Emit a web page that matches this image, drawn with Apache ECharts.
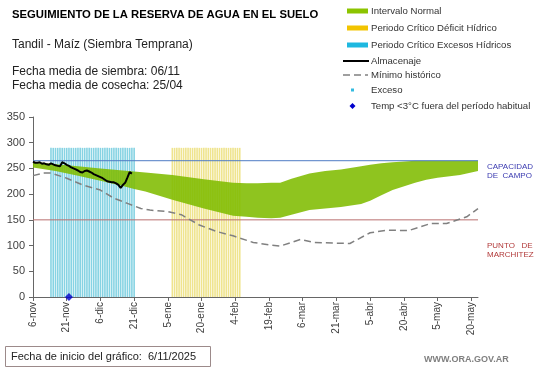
<!DOCTYPE html>
<html>
<head>
<meta charset="utf-8">
<script src="https://cdn.jsdelivr.net/npm/echarts@6/dist/echarts.min.js"></script>
<style>html,body{margin:0;padding:0;background:#fff;}#c{width:541px;height:368px;}</style>
</head>
<body>
<div id="c"></div>
<script>
// ---- data ----
const tickDays = [0,15,30,45,60,75,90,105,120,135,150,165,180,195];
const tickLabels = ['6-nov','21-nov','6-dic','21-dic','5-ene','20-ene','4-feb','19-feb','6-mar','21-mar','5-abr','20-abr','5-may','20-may'];
const lastDay = 198;

const bandDays = [0,10,20,30,40,45,50,62,76,89,95,100,106,110,115,123,130,137,146,150,155,160,170,175,180,190,198];
const bandHigh = [263,258,254,250,246,244,242,237,229,222,221,221,222,222,230,240,245,248,254,257,260,262,265,265,265,265,265];
const bandLow  = [252,245,236,226,216,210,205,189,172,158,156,154,153,154,160,169,172,175,181,187,198,208,222,228,232,237,245];

const almacenaje = [263,261,261,262,259,260,258,257,260,258,256,255,254,262,260,257,255,252,250,248,246,243,242,245,246,244,242,239,237,235,233,231,228,225,224,223,223,221,218,212,218,222,232,243,240];

const minimoDays = [0,5,8,15,22,30,36,42,48,52,60,66,74,82,89,98,106,110,119,125,141,150,158,167,177,184,193,198];
const minimoValues = [236,241,241,231,218,208,192,182,172,169,166,160,140,127,119,106,101,99,112,106,104,125,130,129,143,143,156,172];

const excesoDays = [8,9,10,11,12,13,14,15,16,17,18,19,20,21,22,23,24,25,26,27,28,29,30,31,32,33,34,35,36,37,38,39,40,41,42,43,44,45];
const deficitDays = [62,63,64,65,66,67,68,69,70,71,72,73,74,75,76,77,78,79,80,81,82,83,84,85,86,87,88,89,90,91,92];
const periodHeight = 290;

const capacidadCampo = 265;
const puntoMarchitez = 150;

const tempDays = [16];
const tempValues = [0];

// ---- build ----
const FONT = 'Liberation Sans, Arial, sans-serif';
const bandData = bandDays.map((d,i)=>[d, bandLow[i], bandHigh[i]]);
const almData = almacenaje.map((v,i)=>[i, v]);
const minData = minimoDays.map((d,i)=>[d, minimoValues[i]]);
const excData = excesoDays.map(d=>[d, periodHeight]);
const defData = deficitDays.map(d=>[d, periodHeight]);
const tempData = tempDays.map((d,i)=>[d, tempValues[i]]);

const chart = echarts.init(document.getElementById('c'), null, {renderer:'canvas'});

const legendX = 347, legendTextX = 371;
const legendRows = [
  {y:11, text:'Intervalo Normal', type:'bar', color:'#8CC400'},
  {y:28, text:'Periodo Crítico Déficit Hídrico', type:'bar', color:'#F2C400'},
  {y:45, text:'Periodo Crítico Excesos Hídricos', type:'bar', color:'#1EB8E0'},
  {y:61, text:'Almacenaje', type:'line', color:'#000'},
  {y:75, text:'Mínimo histórico', type:'dash', color:'#808080'},
  {y:90, text:'Exceso', type:'dot', color:'#33BBE0'},
  {y:106, text:'Temp <3°C fuera del período habitual', type:'diamond', color:'#0000CC'}
];
const graphics = [];
legendRows.forEach(r=>{
  if (r.type==='bar') graphics.push({type:'rect', shape:{x:legendX, y:r.y-2.5, width:21, height:5}, style:{fill:r.color}});
  if (r.type==='line') graphics.push({type:'line', shape:{x1:legendX-4, y1:r.y, x2:legendX+22, y2:r.y}, style:{stroke:r.color, lineWidth:2}});
  if (r.type==='dash') graphics.push({type:'line', shape:{x1:legendX-4, y1:r.y, x2:legendX+21, y2:r.y}, style:{stroke:r.color, lineWidth:1.5, lineDash:[7,4]}});
  if (r.type==='dot') graphics.push({type:'rect', shape:{x:legendX+4, y:r.y-1.5, width:3, height:3}, style:{fill:r.color}});
  if (r.type==='diamond') graphics.push({type:'polygon', shape:{points:[[legendX+5.5,r.y-3],[legendX+8.5,r.y],[legendX+5.5,r.y+3],[legendX+2.5,r.y]]}, style:{fill:r.color}});
  graphics.push({type:'text', x:legendTextX, y:r.y, style:{text:r.text, fill:'#333', font:'9.6px '+FONT, textVerticalAlign:'middle'}});
});
graphics.push(
  {type:'text', x:12, y:15, style:{text:'SEGUIMIENTO DE LA RESERVA DE AGUA EN EL SUELO', fill:'#000', font:'bold 11.3px '+FONT, textVerticalAlign:'middle'}},
  {type:'text', x:12, y:45, style:{text:'Tandil - Maíz (Siembra Temprana)', fill:'#222', font:'12px '+FONT, textVerticalAlign:'middle'}},
  {type:'text', x:12, y:72, style:{text:'Fecha media de siembra: 06/11', fill:'#222', font:'12px '+FONT, textVerticalAlign:'middle'}},
  {type:'text', x:12, y:86, style:{text:'Fecha media de cosecha: 25/04', fill:'#222', font:'12px '+FONT, textVerticalAlign:'middle'}},
  {type:'text', x:487, y:171, style:{text:'CAPACIDAD\nDE  CAMPO', fill:'#3A3AB0', font:'8px '+FONT, lineHeight:9, textVerticalAlign:'middle'}},
  {type:'text', x:487, y:250, style:{text:'PUNTO   DE\nMARCHITEZ', fill:'#B23A3A', font:'8px '+FONT, lineHeight:9, textVerticalAlign:'middle'}},
  {type:'rect', shape:{x:5.5, y:346.5, width:205, height:20}, style:{fill:'none', stroke:'#9C8A8A', lineWidth:1}},
  {type:'text', x:11, y:356.5, style:{text:'Fecha de inicio del gráfico:  6/11/2025', fill:'#222', font:'11px '+FONT, textVerticalAlign:'middle'}},
  {type:'text', x:424, y:360, style:{text:'WWW.ORA.GOV.AR', fill:'#7F7F7F', font:'bold 9px '+FONT, textVerticalAlign:'middle'}}
);

function renderBand(params, api) {
  if (params.dataIndex !== 0) return null;
  const pts = [];
  for (let i = 0; i < bandDays.length; i++) pts.push(api.coord([bandDays[i], bandHigh[i]]));
  for (let i = bandDays.length - 1; i >= 0; i--) pts.push(api.coord([bandDays[i], bandLow[i]]));
  return {type:'polygon', shape:{points:pts}, style:{fill:'#80BC00', opacity:0.88}};
}

chart.setOption({
  animation:false,
  backgroundColor:'#fff',
  textStyle:{fontFamily:FONT},
  grid:{left:33, right:63, top:117, bottom:71, containLabel:false, outerBoundsMode:'none'},
  xAxis:{
    type:'value', min:0, max:lastDay,
    axisLine:{show:true, lineStyle:{color:'#666', width:1}},
    axisTick:{show:true, length:4, lineStyle:{color:'#666'}, customValues:tickDays},
    axisLabel:{customValues:tickDays, rotate:90, fontSize:10, color:'#404040', margin:5,
      formatter:v=>{const i=tickDays.indexOf(v); return i>=0?tickLabels[i]:'';}},
    splitLine:{show:false}
  },
  yAxis:{
    type:'value', min:0, max:350, interval:50,
    name:'Milímetros', nameLocation:'middle', nameGap:26, nameTextStyle:{fontSize:7, color:'#404040'},
    axisLine:{show:true, lineStyle:{color:'#666', width:1}},
    axisTick:{show:true, length:4, lineStyle:{color:'#666'}},
    axisLabel:{fontSize:11, color:'#404040', margin:8},
    splitLine:{show:false}
  },
  graphic:graphics,
  series:[
    {type:'bar', name:'exceso periodo', data:excData, barWidth:1.6, itemStyle:{color:'#86D3E3'}, z:1, silent:true},
    {type:'bar', name:'deficit periodo', data:defData, barWidth:1.6, barGap:'-100%', itemStyle:{color:'#EFE48E'}, z:1, silent:true},
    {type:'custom', name:'Intervalo Normal', data:bandData, encode:{x:0, y:[1,2]}, renderItem:renderBand, z:2, silent:true},
    {type:'line', name:'cap', data:[[0,capacidadCampo],[lastDay,capacidadCampo]], symbol:'none', lineStyle:{color:'#4F7BC4', width:1}, z:3},
    {type:'line', name:'pm', data:[[0,puntoMarchitez],[lastDay,puntoMarchitez]], symbol:'none', lineStyle:{color:'#B97070', width:1}, z:3},
    {type:'line', name:'Mínimo histórico', data:minData, symbol:'none', lineStyle:{color:'#808080', width:1.5, type:[7,4]}, z:4},
    {type:'line', name:'Almacenaje', data:almData, symbol:'none', lineStyle:{color:'#000', width:2}, z:5},
    {type:'scatter', name:'Temp', data:tempData, symbol:'diamond', symbolSize:8, itemStyle:{color:'#0000CC'}, z:6}
  ]
});
</script>
</body>
</html>
